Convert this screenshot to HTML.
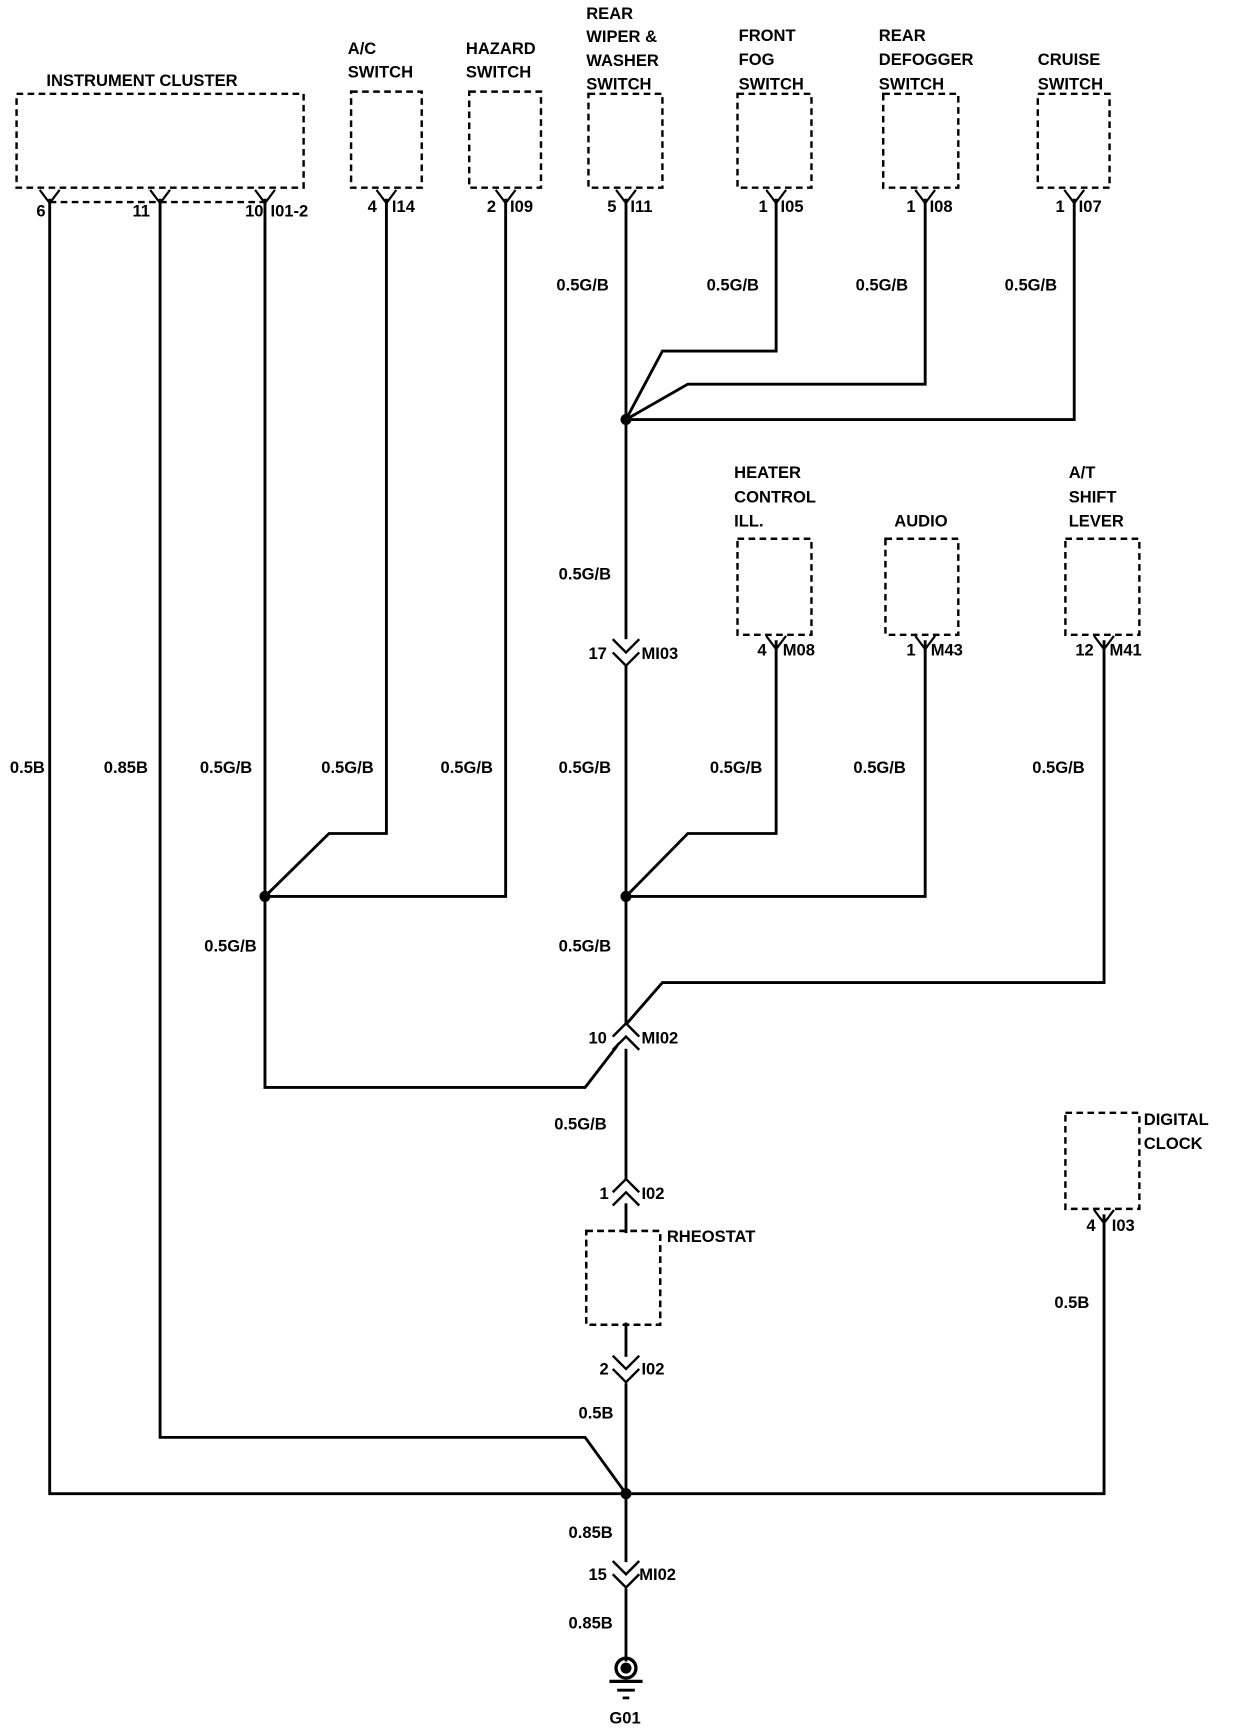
<!DOCTYPE html>
<html><head><meta charset="utf-8"><style>
html,body{margin:0;padding:0;background:#fff;}
svg{display:block;}
text{font-family:"Liberation Sans",sans-serif;font-weight:bold;font-size:15px;fill:#000;}
.n{font-weight:normal;}
</style></head><body>
<svg width="1248" height="1736" viewBox="0 0 1130.4 1572.5" preserveAspectRatio="none" xmlns="http://www.w3.org/2000/svg">
<defs>
<g id="vd"><polyline points="-12,-8 0,4 12,-8" fill="none" stroke="#000" stroke-width="2.2"/><polyline points="-12,4 0,16 12,4" fill="none" stroke="#000" stroke-width="2.2"/></g>
<g id="vu"><polyline points="-12,8 0,-4 12,8" fill="none" stroke="#000" stroke-width="2.2"/><polyline points="-12,-4 0,-16 12,-4" fill="none" stroke="#000" stroke-width="2.2"/></g>
<g id="y"><polyline points="-9,0 0,12 9,0" fill="none" stroke="#000" stroke-width="2"/></g>
</defs>
<g fill="none" stroke="#000" stroke-width="2.2" stroke-dasharray="6,4">
<rect x="15" y="85" width="260" height="85"/>
<rect x="318" y="83" width="64" height="87"/>
<rect x="425" y="83" width="65" height="87"/>
<rect x="533" y="85" width="67" height="85"/>
<rect x="668" y="85" width="67" height="85"/>
<rect x="800" y="85" width="68" height="85"/>
<rect x="940" y="85" width="65" height="85"/>
<rect x="668" y="488" width="67" height="87"/>
<rect x="802" y="488" width="66" height="87"/>
<rect x="965" y="488" width="67" height="87"/>
<rect x="531" y="1115" width="67" height="85"/>
<rect x="965" y="1008" width="67" height="87"/>
<line x1="45" y1="183" x2="240" y2="183"/>
</g>
<g fill="none" stroke="#000" stroke-width="2.6">
<polyline points="45,180 45,1353 1000,1353 1000,1100"/>
<polyline points="145,180 145,1302 530,1302 567,1353"/>
<polyline points="240,180 240,985 530,985 567,937"/>
<polyline points="350,180 350,755 298,755 240,812"/>
<polyline points="458,180 458,812 240,812"/>
<line x1="567" y1="180" x2="567" y2="1500"/>
<polyline points="703,180 703,318 600,318 567,380"/>
<polyline points="838,180 838,348 623,348 567,380"/>
<polyline points="973,180 973,380 567,380"/>
<polyline points="703,580 703,755 623,755 567,812"/>
<polyline points="838,580 838,812 567,812"/>
<polyline points="1000,580 1000,890 600,890 567,928"/>
</g>
<rect x="560" y="579" width="14" height="24" fill="#fff"/>
<rect x="560" y="928" width="14" height="22" fill="#fff"/>
<rect x="560" y="1068" width="14" height="22" fill="#fff"/>
<rect x="560" y="1229" width="14" height="24" fill="#fff"/>
<rect x="560" y="1415" width="14" height="24" fill="#fff"/>
<rect x="560" y="1200" width="14" height="0" fill="#fff"/>
<line x1="567" y1="1100" x2="567" y2="1115" stroke="#fff" stroke-width="0"/>
<use href="#vd" x="567" y="587"/>
<use href="#vu" x="567" y="943"/>
<use href="#vu" x="567" y="1084"/>
<use href="#vd" x="567" y="1236"/>
<use href="#vd" x="567" y="1422"/>
<rect x="561" y="1200" width="12" height="0"/>
<g fill="#000">
<circle cx="567" cy="380" r="5"/><circle cx="240" cy="812" r="5"/><circle cx="567" cy="812" r="5"/><circle cx="567" cy="1353" r="5"/>
</g>
<!-- rheostat interrupt -->
<rect x="533" y="1117" width="63" height="81" fill="#fff"/>
<rect x="531" y="1115" width="67" height="85" fill="none" stroke="#000" stroke-width="2.2" stroke-dasharray="6,4"/>
<!-- pin forks -->
<use href="#y" x="45" y="172"/><use href="#y" x="145" y="172"/><use href="#y" x="240" y="172"/>
<use href="#y" x="350" y="172"/><use href="#y" x="458" y="172"/><use href="#y" x="567" y="172"/>
<use href="#y" x="703" y="172"/><use href="#y" x="838" y="172"/><use href="#y" x="973" y="172"/>
<use href="#y" x="703" y="576"/><use href="#y" x="838" y="576"/><use href="#y" x="1000" y="576"/>
<use href="#y" x="1000" y="1096"/>
<!-- ground -->
<line x1="567" y1="1500" x2="567" y2="1505" stroke="#000" stroke-width="2.6"/>
<circle cx="567" cy="1511" r="9" fill="none" stroke="#000" stroke-width="3"/>
<circle cx="567" cy="1511" r="5" fill="#000"/>
<line x1="552" y1="1523" x2="582" y2="1523" stroke="#000" stroke-width="3"/>
<line x1="559" y1="1531" x2="575" y2="1531" stroke="#000" stroke-width="2.5"/>
<line x1="564" y1="1538" x2="570" y2="1538" stroke="#000" stroke-width="2.5"/>
<!-- labels -->
<text x="42" y="78">INSTRUMENT CLUSTER</text>
<text x="315" y="49">A/C</text><text x="315" y="70">SWITCH</text>
<text x="422" y="49">HAZARD</text><text x="422" y="70">SWITCH</text>
<text x="531" y="17">REAR</text><text x="531" y="38">WIPER &amp;</text><text x="531" y="60">WASHER</text><text x="531" y="81">SWITCH</text>
<text x="669" y="37">FRONT</text><text x="669" y="59">FOG</text><text x="669" y="81">SWITCH</text>
<text x="796" y="37">REAR</text><text x="796" y="59">DEFOGGER</text><text x="796" y="81">SWITCH</text>
<text x="940" y="59">CRUISE</text><text x="940" y="81">SWITCH</text>
<text x="665" y="433">HEATER</text><text x="665" y="455">CONTROL</text><text x="665" y="477">ILL.</text>
<text x="810" y="477">AUDIO</text>
<text x="968" y="433">A/T</text><text x="968" y="455">SHIFT</text><text x="968" y="477">LEVER</text>
<text x="604" y="1125">RHEOSTAT</text>
<text x="1036" y="1019">DIGITAL</text><text x="1036" y="1041">CLOCK</text>
<text x="552" y="1561">G01</text>
<g class="n">
<text x="33" y="196">6</text><text x="120" y="196">11</text><text x="222" y="196">10</text>
<text x="333" y="192">4</text><text x="441" y="192">2</text><text x="550" y="192">5</text>
<text x="687" y="192">1</text><text x="821" y="192">1</text><text x="956" y="192">1</text>
<text x="686" y="594">4</text><text x="821" y="594">1</text><text x="974" y="594">12</text>
<text x="984" y="1115">4</text>
<text x="533" y="597">17</text><text x="533" y="945">10</text><text x="543" y="1086">1</text><text x="543" y="1245">2</text><text x="533" y="1431">15</text>
</g>
<text x="245" y="196">I01-2</text><text x="355" y="192">I14</text><text x="462" y="192">I09</text><text x="571" y="192">I11</text>
<text x="707" y="192">I05</text><text x="842" y="192">I08</text><text x="977" y="192">I07</text>
<text x="709" y="594">M08</text><text x="843" y="594">M43</text><text x="1005" y="594">M41</text>
<text x="1007" y="1115">I03</text>
<text x="581" y="597">MI03</text><text x="581" y="945">MI02</text><text x="581" y="1086">I02</text><text x="581" y="1245">I02</text><text x="579" y="1431">MI02</text>
<g class="n">
<text x="504" y="263">0.5G/B</text><text x="640" y="263">0.5G/B</text><text x="775" y="263">0.5G/B</text><text x="910" y="263">0.5G/B</text>
<text x="506" y="525">0.5G/B</text>
<text x="9" y="700">0.5B</text><text x="94" y="700">0.85B</text><text x="181" y="700">0.5G/B</text><text x="291" y="700">0.5G/B</text><text x="399" y="700">0.5G/B</text>
<text x="506" y="700">0.5G/B</text><text x="643" y="700">0.5G/B</text><text x="773" y="700">0.5G/B</text><text x="935" y="700">0.5G/B</text>
<text x="185" y="862">0.5G/B</text><text x="506" y="862">0.5G/B</text>
<text x="502" y="1023">0.5G/B</text>
<text x="955" y="1185">0.5B</text>
<text x="524" y="1285">0.5B</text>
<text x="515" y="1393">0.85B</text>
<text x="515" y="1475">0.85B</text>
</g>
</svg>
</body></html>
